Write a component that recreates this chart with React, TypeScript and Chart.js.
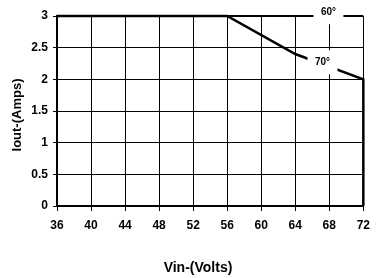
import React, { useEffect, useRef } from "react";
import { Chart, registerables } from "chart.js";

Chart.register(...registerables);

const xTicks = [36, 40, 44, 48, 52, 56, 60, 64, 68, 72];
const yTicks = [0, 0.5, 1, 1.5, 2, 2.5, 3];
const curve60X = [36, 72];
const curve60Y = [3, 3];
const curve70X = [36, 56, 64, 72, 72];
const curve70Y = [3, 3, 2.4, 2, 0];
const labels = ["60°", "70°"];
const labelX = [67.9, 67.2];
const labelY = [3.06, 2.27];
const xTitle = "Vin-(Volts)";
const yTitle = "Iout-(Amps)";

const FONT = "'Liberation Sans', Arial, sans-serif";

const labelPlugin = {
  id: "curveLabels",
  afterDatasetsDraw(chart: any) {
    const ctx = chart.ctx;
    const xs = chart.scales.x;
    const ys = chart.scales.y;
    ctx.save();
    ctx.font = `bold 10px ${FONT}`;
    ctx.textAlign = "center";
    ctx.textBaseline = "middle";
    labels.forEach((t, i) => {
      const px = xs.getPixelForValue(labelX[i]);
      const py = ys.getPixelForValue(labelY[i]);
      ctx.fillStyle = "#fff";
      ctx.fillRect(px - 15, py - 12, 30, 24);
      ctx.fillStyle = "#000";
      ctx.fillText(t, px, py);
    });
    ctx.restore();
  },
  afterDraw(chart: any) {
    const ctx = chart.ctx;
    ctx.save();
    ctx.fillStyle = "#000";
    ctx.textAlign = "center";
    ctx.textBaseline = "middle";
    ctx.font = `bold 14px ${FONT}`;
    ctx.fillText(xTitle, 198, 268);
    ctx.translate(17, 115);
    ctx.rotate(-Math.PI / 2);
    ctx.font = `bold 13px ${FONT}`;
    ctx.fillText(yTitle, 0, 0);
    ctx.restore();
  },
};

export default function App() {
  const ref = useRef<HTMLCanvasElement>(null);
  useEffect(() => {
    const chart = new Chart(ref.current as HTMLCanvasElement, {
      type: "scatter",
      data: {
        datasets: [
          {
            label: labels[0],
            data: curve60X.map((x, i) => ({ x, y: curve60Y[i] })),
            showLine: true,
            borderColor: "#000",
            borderWidth: 2,
            pointRadius: 0,
            clip: false as any,
          },
          {
            label: labels[1],
            data: curve70X.map((x, i) => ({ x, y: curve70Y[i] })),
            showLine: true,
            borderColor: "#000",
            borderWidth: 2.5,
            pointRadius: 0,
            clip: false as any,
          },
        ],
      },
      options: {
        animation: false,
        responsive: true,
        maintainAspectRatio: false,
        layout: { padding: { top: 16, right: 12, left: 0, bottom: 0 } },
        plugins: { legend: { display: false }, tooltip: { enabled: false } },
        scales: {
          x: {
            type: "linear",
            min: 36,
            max: 72,
            afterBuildTicks: (s: any) => {
              s.ticks = xTicks.map((v) => ({ value: v }));
            },
            afterFit: (s: any) => {
              s.height = 72;
            },
            grid: { color: "#000", lineWidth: 1, tickLength: 5 },
            border: { color: "#000", width: 2 },
            ticks: {
              color: "#000",
              font: { family: FONT, size: 12, weight: "bold" },
              padding: 7,
              maxRotation: 0,
              callback: (v: any) => String(v),
            },
          },
          y: {
            type: "linear",
            min: 0,
            max: 3,
            afterBuildTicks: (s: any) => {
              s.ticks = yTicks.map((v) => ({ value: v }));
            },
            afterFit: (s: any) => {
              s.width = 57;
            },
            grid: { color: "#000", lineWidth: 1, tickLength: 4 },
            border: { color: "#000", width: 2 },
            ticks: {
              color: "#000",
              font: { family: FONT, size: 12, weight: "bold" },
              padding: 5,
              callback: (v: any) => String(v),
            },
          },
        },
      },
      plugins: [labelPlugin],
    });
    return () => chart.destroy();
  }, []);
  return (
    <div style={{ position: "fixed", left: 0, top: 0, width: 377, height: 278, background: "#fff" }}>
      <canvas ref={ref} />
    </div>
  );
}
